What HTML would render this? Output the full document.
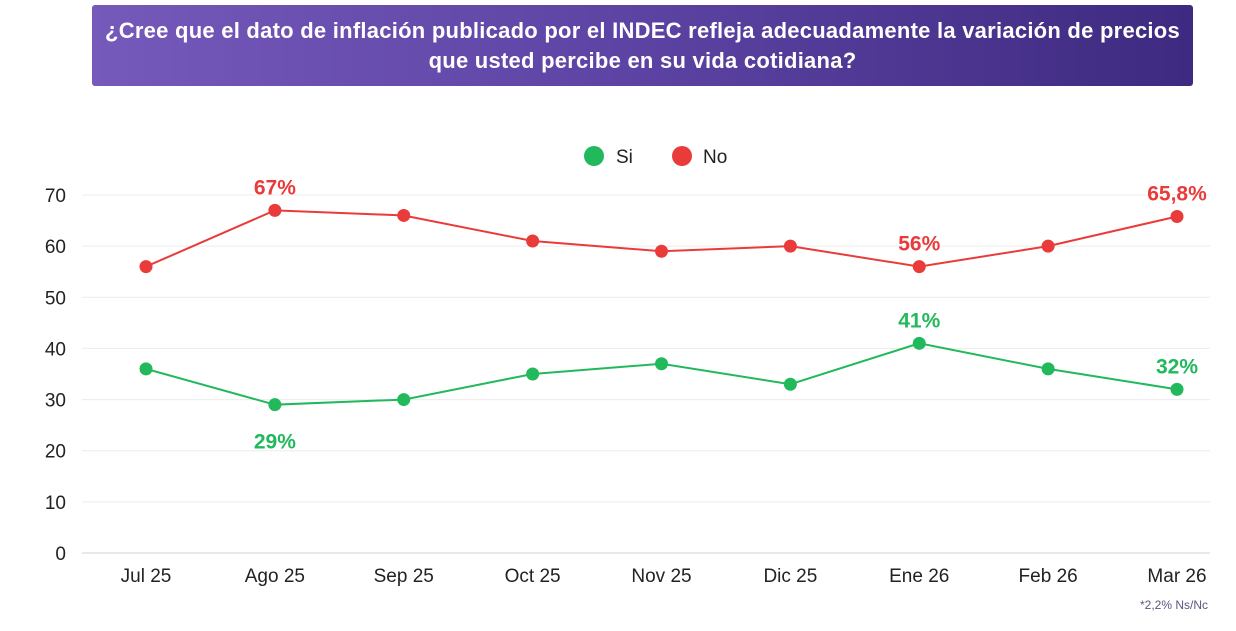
<!DOCTYPE html>
<html><head><meta charset="utf-8"><style>
body{margin:0;background:#fff;font-family:"Liberation Sans",sans-serif;}
#wrap{position:relative;width:1236px;height:631px;overflow:hidden}
#title{position:absolute;left:92px;top:5px;width:1101px;height:81px;border-radius:3px;background:linear-gradient(90deg,#7559bb,#5c43a3 50%,#3e2a80);color:#fff;font-weight:bold;font-size:22px;letter-spacing:0.25px;line-height:30px;text-align:center;display:flex;align-items:center;justify-content:center}
svg{position:absolute;left:0;top:0}
</style></head><body><div id="wrap">
<div id="title">¿Cree que el dato de inflación publicado por el INDEC refleja adecuadamente la variación de precios<br>que usted percibe en su vida cotidiana?</div>
<svg id="c" width="1236" height="631"></svg>
</div>
<script>
const categories=["Jul 25","Ago 25","Sep 25","Oct 25","Nov 25","Dic 25","Ene 26","Feb 26","Mar 26"];
const siValues=[36,29,30,35,37,33,41,36,32];
const noValues=[56,67,66,61,59,60,56,60,65.8];
const yTicks=[0,10,20,30,40,50,60,70];
const siLabels={1:"29%",6:"41%",8:"32%"};
const noLabels={1:"67%",6:"56%",8:"65,8%"};
const NS="http://www.w3.org/2000/svg";
const svg=document.getElementById('c');
const x=i=>146+i*(1177-146)/(categories.length-1);
const y=v=>553-v*(553-195)/70;
function mk(t,a,txt){const e=document.createElementNS(NS,t);for(const k in a)e.setAttribute(k,a[k]);if(txt!==undefined)e.textContent=txt;svg.appendChild(e);return e;}
yTicks.forEach(t=>{
 const l=mk('line',{x1:82,x2:1210,y1:y(t),y2:y(t),stroke:t===0?'#d0d0d0':'#ececec','stroke-width':1});
 
 
 const tx=mk('text',{x:66,y:y(t)+7,'text-anchor':'end','font-size':19,fill:'#222'},t);
 
 
});
categories.forEach((c,i)=>{
 const tx=mk('text',{x:x(i),y:582,'text-anchor':'middle','font-size':19,fill:'#222'},c);
 
 
});
function series(vals,color,name,labels,above){
 const p=mk('polyline',{points:vals.map((v,i)=>x(i)+','+y(v)).join(' '),fill:'none',stroke:color,'stroke-width':2});
 
 
 vals.forEach((v,i)=>{
  const c=mk('circle',{cx:x(i),cy:y(v),r:6.5,fill:color});
  
  
  if(labels[i]){
   const up=above(i);
   const t=mk('text',{x:x(i),y:up?y(v)-16:y(v)+44,'text-anchor':'middle','font-size':21,'font-weight':'bold',fill:color},labels[i]);
   
   
  }
 });
}
series(noValues,'#ea3b3b','no',noLabels,()=>true);
series(siValues,'#22b85c','si',siLabels,i=>i!==1);
const l1=mk('circle',{cx:594,cy:156,r:10,fill:'#22b85c'});


const t1=mk('text',{x:616,y:163,'font-size':19,fill:'#222'},'Si');


const l2=mk('circle',{cx:682,cy:156,r:10,fill:'#ea3b3b'});


const t2=mk('text',{x:703,y:163,'font-size':19,fill:'#222'},'No');


const fn=mk('text',{x:1208,y:609,'text-anchor':'end','font-size':12,fill:'#5a5680'},'*2,2% Ns/Nc');


</script></body></html>
